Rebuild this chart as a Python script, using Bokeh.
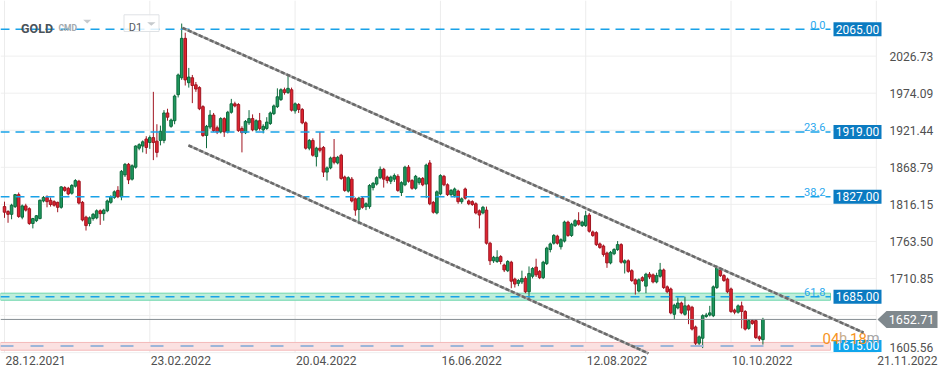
from bokeh.plotting import figure
from bokeh.models import Range1d, ColumnDataSource
from bokeh.core.properties import value
from bokeh.embed import file_html
from bokeh.resources import INLINE

# ---------------- data (GOLD, D1 candles, bar 0 = 28.12.2021) ----------------
opens = [1813, 1806, 1802, 1813, 1830, 1798, 1814, 1810, 1789, 1793,
         1796, 1821, 1826, 1822, 1820, 1819, 1812, 1840, 1839, 1832,
         1842, 1849, 1819, 1798, 1789, 1796, 1797, 1807, 1803, 1807,
         1819, 1826, 1836, 1827, 1858, 1873, 1852, 1869, 1896, 1899,
         1909, 1904, 1911, 1906, 1907, 1907, 1946, 1927, 1935, 1972,
         1996, 2052, 1989, 1996, 1986, 1982, 1955, 1914, 1926, 1943,
         1925, 1919, 1938, 1919, 1947, 1959, 1958, 1924, 1918, 1932,
         1938, 1922, 1935, 1922, 1924, 1931, 1945, 1955, 1965, 1979,
         1975, 1979, 1949, 1958, 1951, 1932, 1896, 1907, 1884, 1896,
         1897, 1862, 1868, 1883, 1875, 1886, 1855, 1835, 1852, 1824,
         1809, 1825, 1813, 1813, 1840, 1845, 1854, 1866, 1855, 1849,
         1852, 1856, 1833, 1844, 1869, 1850, 1839, 1847, 1853, 1845,
         1875, 1819, 1804, 1831, 1856, 1844, 1830, 1829, 1835, 1820,
         1838, 1821, 1820, 1817, 1807, 1804, 1808, 1761, 1736, 1735,
         1742, 1730, 1722, 1734, 1710, 1704, 1706, 1711, 1692, 1714,
         1727, 1721, 1712, 1732, 1752, 1761, 1771, 1756, 1764, 1791,
         1772, 1786, 1793, 1786, 1786, 1801, 1777, 1776, 1760, 1757,
         1747, 1733, 1746, 1752, 1759, 1733, 1736, 1722, 1709, 1693,
         1712, 1700, 1717, 1716, 1706, 1714, 1723, 1699, 1696, 1660,
         1669, 1676, 1660, 1672, 1670, 1642, 1619, 1626, 1657, 1659,
         1658, 1698, 1723, 1715, 1710, 1696, 1666, 1663, 1672, 1664,
         1640, 1651, 1651, 1628, 1624]
highs = [1820, 1808, 1817, 1831, 1833, 1816, 1817, 1812, 1797, 1801,
         1823, 1828, 1829, 1826, 1822, 1820, 1842, 1842, 1841, 1845,
         1852, 1851, 1821, 1800, 1799, 1804, 1809, 1809, 1810, 1823,
         1829, 1836, 1842, 1865, 1875, 1875, 1873, 1900, 1903, 1907,
         1913, 1914, 1976, 1930, 1928, 1950, 1952, 1938, 1972, 2002,
         2073, 2060, 2010, 2000, 1990, 1984, 1957, 1929, 1950, 1946,
         1928, 1940, 1940, 1949, 1966, 1962, 1960, 1927, 1936, 1950,
         1944, 1937, 1946, 1930, 1940, 1948, 1958, 1981, 1981, 1982,
         1999, 1982, 1961, 1960, 1953, 1934, 1909, 1910, 1898, 1919,
         1899, 1870, 1884, 1909, 1885, 1888, 1857, 1856, 1855, 1826,
         1827, 1828, 1819, 1845, 1848, 1856, 1870, 1868, 1857, 1857,
         1860, 1859, 1849, 1871, 1872, 1852, 1858, 1855, 1855, 1874,
         1879, 1821, 1836, 1859, 1858, 1846, 1838, 1840, 1837, 1826,
         1840, 1823, 1822, 1819, 1809, 1814, 1813, 1763, 1743, 1751,
         1744, 1732, 1737, 1736, 1712, 1710, 1722, 1714, 1728, 1727,
         1739, 1723, 1736, 1756, 1762, 1774, 1773, 1768, 1793, 1793,
         1790, 1795, 1805, 1793, 1807, 1804, 1779, 1778, 1762, 1759,
         1749, 1750, 1754, 1764, 1761, 1738, 1738, 1724, 1711, 1711,
         1714, 1719, 1720, 1718, 1719, 1733, 1725, 1701, 1698, 1675,
         1684, 1678, 1685, 1674, 1672, 1644, 1630, 1660, 1662, 1672,
         1701, 1729, 1726, 1717, 1712, 1698, 1668, 1674, 1678, 1666,
         1653, 1653, 1653, 1630, 1655]
lows = [1797, 1790, 1795, 1811, 1797, 1795, 1806, 1787, 1782, 1791,
        1795, 1819, 1812, 1813, 1813, 1805, 1810, 1834, 1829, 1830,
        1840, 1816, 1792, 1779, 1785, 1793, 1795, 1787, 1793, 1805,
        1817, 1824, 1825, 1822, 1855, 1845, 1850, 1867, 1893, 1890,
        1888, 1895, 1879, 1883, 1900, 1903, 1935, 1925, 1930, 1968,
        1993, 1985, 1982, 1960, 1976, 1950, 1912, 1896, 1923, 1919,
        1916, 1917, 1912, 1917, 1945, 1954, 1919, 1890, 1916, 1929,
        1920, 1920, 1921, 1917, 1922, 1929, 1943, 1953, 1963, 1972,
        1973, 1948, 1945, 1946, 1930, 1894, 1893, 1884, 1870, 1890,
        1855, 1850, 1866, 1873, 1873, 1851, 1834, 1833, 1819, 1800,
        1788, 1810, 1808, 1810, 1836, 1843, 1852, 1840, 1846, 1845,
        1848, 1834, 1828, 1842, 1847, 1837, 1837, 1844, 1842, 1825,
        1815, 1803, 1802, 1829, 1842, 1828, 1828, 1826, 1817, 1817,
        1823, 1815, 1814, 1802, 1782, 1802, 1759, 1730, 1733, 1733,
        1731, 1720, 1720, 1697, 1698, 1700, 1703, 1690, 1681, 1711,
        1713, 1710, 1710, 1730, 1748, 1759, 1759, 1752, 1762, 1770,
        1770, 1784, 1786, 1784, 1784, 1776, 1770, 1757, 1753, 1742,
        1726, 1731, 1744, 1750, 1732, 1718, 1719, 1706, 1688, 1691,
        1706, 1690, 1710, 1704, 1704, 1712, 1696, 1690, 1660, 1652,
        1667, 1660, 1658, 1646, 1637, 1616, 1614, 1612, 1655, 1657,
        1656, 1696, 1713, 1706, 1690, 1662, 1660, 1661, 1640, 1637,
        1638, 1645, 1625, 1622, 1617]
closes = [1805, 1802, 1815, 1830, 1799, 1814, 1808, 1789, 1796, 1800,
          1822, 1826, 1820, 1816, 1815, 1812, 1841, 1836, 1831, 1843,
          1850, 1818, 1794, 1786, 1797, 1802, 1807, 1803, 1808, 1821,
          1827, 1834, 1827, 1863, 1873, 1851, 1871, 1899, 1901, 1905,
          1897, 1911, 1904, 1890, 1920, 1946, 1940, 1936, 1970, 2000,
          2052, 1993, 1997, 1985, 1980, 1952, 1914, 1927, 1943, 1921,
          1919, 1938, 1919, 1947, 1959, 1956, 1921, 1918, 1934, 1938,
          1922, 1935, 1924, 1927, 1933, 1946, 1956, 1969, 1979, 1975,
          1981, 1950, 1959, 1951, 1932, 1896, 1907, 1886, 1896, 1893,
          1862, 1868, 1882, 1876, 1883, 1853, 1836, 1854, 1821, 1808,
          1825, 1812, 1817, 1843, 1846, 1854, 1866, 1852, 1850, 1855,
          1857, 1836, 1847, 1869, 1849, 1839, 1856, 1853, 1844, 1872,
          1817, 1805, 1834, 1857, 1844, 1830, 1836, 1838, 1820, 1824,
          1825, 1817, 1816, 1804, 1801, 1812, 1761, 1736, 1741, 1741,
          1735, 1723, 1735, 1707, 1703, 1708, 1711, 1692, 1718, 1725,
          1716, 1712, 1734, 1754, 1760, 1772, 1761, 1766, 1791, 1772,
          1788, 1793, 1788, 1791, 1800, 1778, 1772, 1759, 1755, 1745,
          1733, 1748, 1752, 1759, 1734, 1736, 1721, 1708, 1703, 1709,
          1708, 1717, 1713, 1706, 1715, 1723, 1698, 1692, 1662, 1673,
          1676, 1662, 1672, 1666, 1639, 1619, 1628, 1658, 1659, 1662,
          1699, 1726, 1715, 1708, 1692, 1664, 1663, 1672, 1664, 1639,
          1651, 1647, 1627, 1625, 1652.71]

x_tick_bars = [0, 41, 82, 123, 164, 205, 246]
x_tick_labels = ["28.12.2021", "23.02.2022", "20.04.2022", "16.06.2022",
                 "12.08.2022", "10.10.2022", "21.11.2022"]
y_ticks = [2026.73, 1974.09, 1921.44, 1868.79, 1816.15, 1763.50,
           1710.85, 1658.20, 1605.56]
y_tick_labels = ["2026.73", "1974.09", "1921.44", "1868.79", "1816.15",
                 "1763.50", "1710.85", "1658.20", "1605.56"]
fib_levels = [2065.0, 1919.0, 1827.0, 1685.0]
fib_labels = ["0.0", "23.6", "38.2", "61.8"]
fib_box_labels = ["2065.00", "1919.00", "1827.00", "1685.00"]
support_level = 1615.0
support_label = "1615.00"
last_price = 1652.71
last_price_label = "1652.71"
zone_upper = (1680.0, 1690.0)
zone_lower = (1609.0, 1620.0)
channel_upper_x = [50.2, 242.4]
channel_upper_y = [2067.0, 1634.0]
channel_lower_x = [51.9, 181.7]
channel_lower_y = [1900.0, 1604.5]
countdown = ["04", "h", "18", "m"]

# ---------------- geometry helpers (page px -> data) ----------------
W, H = 945, 374
PX_PER_BAR = 3.544
X0 = -4 / 3.544
PPX = 1.4205          # price units per pixel
Y_TOP = 2105.76


def xd(px):
    return X0 + px / PX_PER_BAR


def yd(py):
    return Y_TOP - py * PPX


FONT = value("Roboto")
LAST_BAR = x_tick_bars[-1]

p = figure(width=W, height=H, output_backend="svg", toolbar_location=None,
           x_range=Range1d(X0, X0 + W / PX_PER_BAR),
           y_range=Range1d(Y_TOP - H * PPX, Y_TOP),
           x_axis_type=None, y_axis_type=None, title=None,
           min_border=0, outline_line_color=None,
           background_fill_color="white", border_fill_color="white")
p.min_border_left = 0
p.min_border_right = 0
p.min_border_top = 0
p.min_border_bottom = 0

# grid
n = len(y_ticks)
p.segment(x0=[X0] * n, y0=y_ticks, x1=[LAST_BAR] * n, y1=y_ticks,
          line_color="#efefef", line_width=1)
p.segment(x0=x_tick_bars, y0=[yd(352)] * len(x_tick_bars), x1=x_tick_bars,
          y1=[Y_TOP] * len(x_tick_bars), line_color="#ececec", line_width=1)

# zones
p.quad(left=[X0, X0], right=[xd(830), xd(830)],
       bottom=[zone_upper[0], zone_lower[0]], top=[zone_upper[1], zone_lower[1]],
       fill_color=["#bdeedb", "#fbe1e1"], line_color=["#6ed6ab", "#f4b9b9"],
       line_width=1)

# candles
idx = list(range(len(closes)))
inc = [c >= o for o, c in zip(opens, closes)]
body_top, body_bot = [], []
for o, c in zip(opens, closes):
    t, b = max(o, c), min(o, c)
    if t - b < 1.4:
        m = (t + b) / 2
        t, b = m + 0.7, m - 0.7
    body_top.append(t)
    body_bot.append(b)
src = ColumnDataSource(dict(
    x=idx, top=body_top, bottom=body_bot, high=highs, low=lows,
    fill=["#1f9a60" if i else "#e0232f" for i in inc],
    edge=["#0d6a3c" if i else "#a01521" for i in inc]))
p.segment(x0="x", y0="low", x1="x", y1="high", line_color="edge",
          line_width=1, source=src)
p.vbar(x="x", width=0.72, top="top", bottom="bottom", fill_color="fill",
       line_color="edge", line_width=1, source=src)

# fibonacci lines
nf = len(fib_levels)
p.segment(x0=[X0] * nf, y0=fib_levels, x1=[xd(830)] * nf, y1=fib_levels,
          line_color="#19a2e8", line_width=1.5, line_dash="9 6")
p.segment(x0=[X0], y0=[support_level], x1=[xd(830)], y1=[support_level],
          line_color="#9db5d9", line_width=2, line_dash="13 17")

# current price line
p.segment(x0=[X0], y0=[last_price], x1=[LAST_BAR], y1=[last_price],
          line_color="#858d92", line_width=1)

# y tick labels (right)
lab_y = [max(t, yd(347)) for t in y_ticks]
p.text(x=[xd(889)] * n, y=lab_y, text=y_tick_labels, text_font=FONT,
       text_font_size="12px", text_color="#505050", text_align="left",
       text_baseline="middle")

# x tick labels
p.text(x=[b + 1 / PX_PER_BAR for b in x_tick_bars],
       y=[yd(360)] * len(x_tick_bars), text=x_tick_labels, text_font=FONT,
       text_font_size="12px", text_color="#505050", text_align="left",
       text_baseline="middle")

# fib labels
p.text(x=[xd(825)] * nf, y=[lv + 4.5 * PPX for lv in fib_levels],
       text=fib_labels, text_font=FONT, text_font_size="11px",
       text_color="#2aa8ee", text_align="right", text_baseline="alphabetic")

# level boxes
p.quad(left=[xd(833)] * nf, right=[xd(881)] * nf,
       bottom=[lv - 7 * PPX for lv in fib_levels],
       top=[lv + 7 * PPX for lv in fib_levels],
       fill_color="#0b7bc1", line_color=None)
p.quad(left=[xd(833)], right=[xd(881)], bottom=[support_level - 6 * PPX],
       top=[support_level + 6 * PPX], fill_color="#10a5ec", line_color=None)
p.text(x=[xd(857)] * (nf + 1), y=fib_levels + [support_level],
       text=fib_box_labels + [support_label], text_font=FONT,
       text_font_size="12px", text_color="white", text_align="center",
       text_baseline="middle")

# price tag
tag_h = 8.5 * PPX
p.patch(x=[xd(877), xd(886), xd(937), xd(937), xd(886)],
        y=[last_price, last_price + tag_h, last_price + tag_h,
           last_price - tag_h, last_price - tag_h],
        fill_color="#7f888d", line_color=None)
p.text(x=[xd(911)], y=[last_price], text=[last_price_label], text_font=FONT,
       text_font_size="12.5px", text_color="white", text_align="center",
       text_baseline="middle")

# countdown
p.text(x=[xd(822), xd(838.5), xd(849.5), xd(866)], y=[yd(337.5)] * 4,
       text=countdown, text_font=FONT, text_font_size="15px",
       text_color=["#f7941d", "#c9ad8c", "#f7941d", "#a5a5a5"],
       text_align="left", text_baseline="alphabetic")

# channel lines
for cx, cy in ((channel_upper_x, channel_upper_y),
               (channel_lower_x, channel_lower_y)):
    p.line(cx, cy, line_color="#a8a8a8", line_width=2.5)
    p.line(cx, cy, line_color="#6a6a6a", line_width=2.5, line_dash="4 2")

# header
p.text(x=[xd(20.5)], y=[yd(27.6)], text=["GOLD"], text_font=FONT,
       text_font_size="12.5px", text_font_style="bold", text_color="#4a5258",
       text_align="left", text_baseline="alphabetic")
p.text(x=[xd(58)], y=[yd(27)], text=["CMD"], text_font=FONT,
       text_font_size="8.5px", text_font_style="bold", text_color="#a3a9ae",
       text_align="left", text_baseline="alphabetic")
p.quad(left=[xd(123.5)], right=[xd(158.5)], bottom=[yd(31)], top=[yd(14.3)],
       fill_color="white", fill_alpha=0.85, line_color="#dfe2e5", line_width=1)
p.text(x=[xd(128.3)], y=[yd(27.3)], text=["D1"], text_font=FONT,
       text_font_size="11px", text_color="#555b60", text_align="left",
       text_baseline="alphabetic")
p.patches(xs=[[xd(82.7), xd(90.7), xd(86.7)], [xd(146.7), xd(155), xd(150.8)]],
          ys=[[yd(19.3), yd(19.3), yd(22.9)], [yd(21.7), yd(21.7), yd(25.2)]],
          fill_color="#c6cacd", line_color=None)

open("out.html", "w").write(file_html(p, INLINE))
